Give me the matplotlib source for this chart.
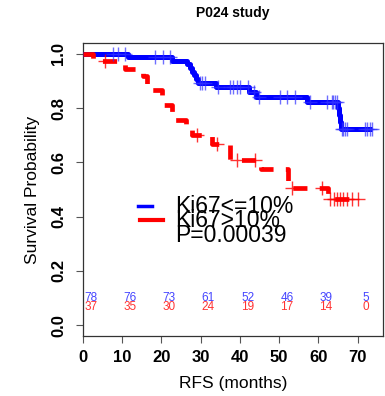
import numpy as np
import matplotlib
matplotlib.use("Agg")
from matplotlib import pyplot as plt

plt.rcParams['font.family'] = ['Liberation Sans', 'DejaVu Sans']

# Kaplan-Meier steps (months, survival)
blue_t = [0, 11.5, 22.6, 26.5, 27.3, 27.9, 28.3, 28.7, 29.2, 34.0, 42.4, 44.2, 57.1, 65.0, 65.3, 65.6, 65.9, 73.6]
blue_s = [1.0, 0.987, 0.974, 0.961, 0.948, 0.934, 0.921, 0.907, 0.893, 0.876, 0.860, 0.842, 0.823, 0.800, 0.775, 0.750, 0.724, 0.724]
blue_cens = [7.7, 9.0, 10.7, 18.4, 20.4, 22.2, 29.8, 30.4, 31.2, 34.5, 37.5, 38.3, 39.2, 40.0, 42.2,
             43.7, 45.0, 50.2, 52.0, 54.1, 57.9, 62.1, 63.4, 63.8, 64.3, 64.7, 66.0, 66.4, 66.8, 67.2,
             71.9, 72.4, 73.2, 73.6]

red_t = [0, 2.6, 10.7, 15.3, 16.3, 20.2, 22.8, 26.2, 27.8, 33.0, 37.5, 45.5, 52.3, 62.6, 70.2]
red_s = [1.0, 0.973, 0.946, 0.919, 0.865, 0.811, 0.757, 0.730, 0.700, 0.669, 0.607, 0.575, 0.507, 0.465, 0.465]
red_cens = [5.6, 29.0, 34.1, 39.2, 43.9, 53.2, 60.9, 63.0, 63.9, 64.7, 65.6, 66.4, 67.2, 68.5, 70.2]

risk_times = [0, 10, 20, 30, 40, 50, 60, 70]
risk_blue = [78, 76, 73, 61, 52, 46, 39, 5]
risk_red = [37, 35, 30, 24, 19, 17, 14, 0]

labels = ['Ki67<=10%', 'Ki67>10%']
p_text = 'P=0.00039'


def surv_at(times, surv, x):
    idx = np.searchsorted(times, x, side='right') - 1
    return np.asarray(surv)[idx]


fig = plt.figure(figsize=(3.85, 3.96), dpi=100)
ax = fig.add_axes([83 / 385, 1 - 336 / 396, 300 / 385, 293 / 396])

ax.step(blue_t, blue_s, where='post', color='#0000ff', lw=3.6, solid_capstyle='butt', zorder=3)
ax.step(red_t, red_s, where='post', color='#ff0000', lw=3.4, linestyle=(0, (3.0, 2.6)),
        dash_capstyle='butt', zorder=3.5)

ax.plot(blue_cens, surv_at(blue_t, blue_s, blue_cens), ls='none', marker='+', ms=10, mew=1.0,
        color='#3030ff', alpha=0.7, zorder=4)
ax.plot(red_cens, surv_at(red_t, red_s, red_cens), ls='none', marker='+', ms=10, mew=1.0,
        color='#ff0000', alpha=0.8, zorder=4)

# number at risk
for t, nb, nr in zip(risk_times, risk_blue, risk_red):
    ax.text(t + 2, 0.10, str(nb), color='#4444ff', fontsize=8.5, ha='center', va='center')
    ax.text(t + 2, 0.068, str(nr), color='#ff3333', fontsize=8.5, ha='center', va='center')

# legend drawn by hand (overlapping lines like the original)
ax.plot([0.183, 0.23], [0.444, 0.444], transform=ax.transAxes, color='#0000ff', lw=2.5)
ax.plot([0.19, 0.267], [0.396, 0.396], transform=ax.transAxes, color='#ff0000', lw=3)
ax.text(0.307, 0.419, labels[0], transform=ax.transAxes, fontsize=16.5, va='baseline')
ax.text(0.307, 0.373, labels[1], transform=ax.transAxes, fontsize=16.5, va='baseline')
ax.text(0.307, 0.322, p_text, transform=ax.transAxes, fontsize=16.5, va='baseline')

ax.set_xlim(0, 76.5)
ax.set_ylim(-0.04, 1.04)
ax.set_xticks([0, 10, 20, 30, 40, 50, 60, 70])
ax.set_yticks([0.0, 0.2, 0.4, 0.6, 0.8, 1.0])
ax.set_yticklabels(['0.0', '0.2', '0.4', '0.6', '0.8', '1.0'], rotation=90, va='center')
ax.tick_params(axis='both', length=5, width=0.8, color='#555555', labelsize=12)
ax.tick_params(axis='x', pad=5)
ax.tick_params(axis='y', pad=7)
for lab in ax.get_xticklabels() + ax.get_yticklabels():
    lab.set_fontweight('bold')
for s in ax.spines.values():
    s.set_color('#333333')
    s.set_linewidth(0.9)

ax.set_xlabel('RFS (months)', fontsize=12.5, labelpad=8)
ax.set_ylabel('Survival Probability', fontsize=12.5, labelpad=8)
fig.text(233 / 385, 1 - 13 / 396, 'P024 study', fontsize=10, fontweight='bold', ha='center', va='center')

fig.savefig('out.png', dpi=100)
